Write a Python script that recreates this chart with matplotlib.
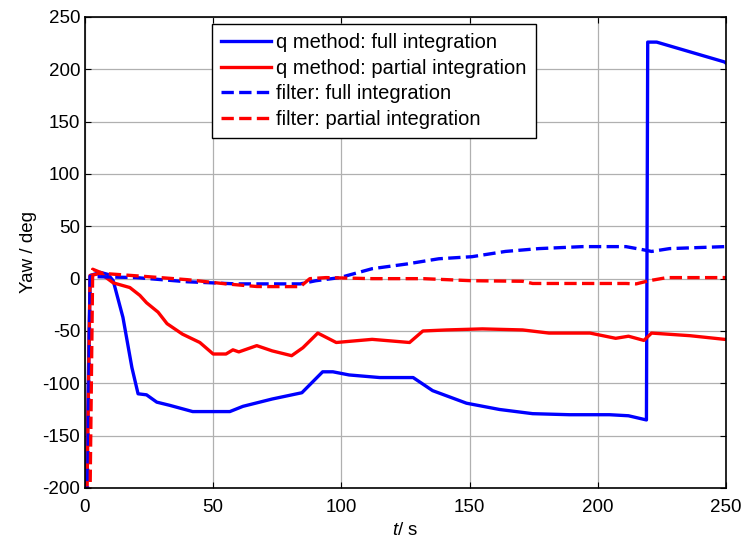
import matplotlib.pyplot as plt

plt.rcParams['font.family'] = ['Liberation Sans', 'DejaVu Sans']
plt.rcParams['axes.unicode_minus'] = False
plt.rcParams['mathtext.fontset'] = 'custom'
plt.rcParams['mathtext.it'] = 'Liberation Sans:italic'
plt.rcParams['mathtext.rm'] = 'Liberation Sans'

# q method: full integration
t_q_full = [0, 0.6, 2, 6, 9, 11, 14.8, 18.3, 20.7, 24, 28, 33, 42, 56.5, 61.6, 73, 84.6,
            92.7, 96.7, 103, 115, 128, 135.6, 148.8, 161.7, 174.6, 189, 204.6, 212,
            219, 219.5, 223, 249.5, 250]
yaw_q_full = [-210, -200, 3, 6, 4, -2, -37, -85, -110, -111, -118, -121, -127, -127, -122,
              -115, -109, -89, -89, -92, -94.5, -94.5, -107, -119, -125, -129, -130, -130,
              -131, -135, 226, 226, 207, 206]

# q method: partial integration
t_q_part = [0, 0.8, 2, 6, 11, 17.5, 21.4, 24, 28.5, 32, 38, 44.8, 50, 55, 57.7, 60, 67,
            73, 80.6, 85, 90.8, 98, 112, 126.6, 131.8, 141, 155, 170.7, 181, 197, 207,
            212, 218, 221, 236, 249.5, 250]
yaw_q_part = [-210, -200, 3, 5, -4, -8.5, -16, -23, -32, -43, -53, -61, -72, -72, -68, -70,
              -64, -69, -73.6, -66, -52, -61, -58, -61, -50, -49, -48, -49, -52, -52, -57,
              -55, -59, -52, -54.5, -58, -58]

# filter: full integration
t_f_full = [0, 1.0, 2, 20, 40, 59, 72, 84, 90, 99.4, 112, 125.5, 138, 151, 164, 177,
            194, 211, 217.5, 221, 228, 249.5, 250]
yaw_f_full = [-210, -200, 2, 1, -3, -5, -5, -5, -2, 1, 9.5, 14, 19, 21, 26, 28.7,
              30.6, 30.6, 27.7, 26, 28.7, 30.6, 30.6]

# filter: partial integration
t_f_part = [0, 2, 3, 7, 24, 40, 55, 67, 73, 84, 87.7, 94, 112, 132, 151, 170.7, 174.6,
            189, 211, 215, 220, 227, 249.5, 250]
yaw_f_part = [-210, -200, 9, 5, 2, -1, -5, -7.5, -7.6, -7.6, 0, 1, 0, 0, -2, -2.5, -4.6,
              -4.6, -4.6, -5, -2, 1, 1, 1]

fig = plt.figure(figsize=(7.43, 5.41), dpi=100)
ax = fig.add_axes([0.1144, 0.098, 0.8626, 0.8706])

lw = 2.4
ax.plot(t_q_full, yaw_q_full, color='#0000ff', lw=lw, label='q method: full integration')
ax.plot(t_q_part, yaw_q_part, color='#ff0000', lw=lw, label='q method: partial integration')
ax.plot(t_f_full, yaw_f_full, color='#0000ff', lw=lw, ls='--', label='filter: full integration')
ax.plot(t_f_part, yaw_f_part, color='#ff0000', lw=lw, ls='--', label='filter: partial integration')

ax.set_xlim(0, 250)
ax.set_ylim(-200, 250)
ax.set_xticks(range(0, 251, 50))
ax.set_yticks(range(-200, 251, 50))
ax.grid(True, color='#b0b0b0', lw=0.9)
ax.tick_params(direction='in', top=True, right=True, labelsize=13.5, length=4, width=0.8)
ax.tick_params(axis='x', pad=8)
for s in ax.spines.values():
    s.set_linewidth(1.2)

ax.set_xlabel('$\\mathit{t}$/ s', fontsize=13.5, labelpad=4)
ax.set_ylabel('Yaw / deg', fontsize=13.5, labelpad=4)

leg = ax.legend(loc='upper left', bbox_to_anchor=(0.198, 0.985), fontsize=14.5,
                fancybox=False, framealpha=1, edgecolor='black', borderpad=0.45,
                labelspacing=0.33, handlelength=2.5, handletextpad=0.25, borderaxespad=0)
leg.get_frame().set_linewidth(1.0)

fig.savefig('out.png', dpi=100)
